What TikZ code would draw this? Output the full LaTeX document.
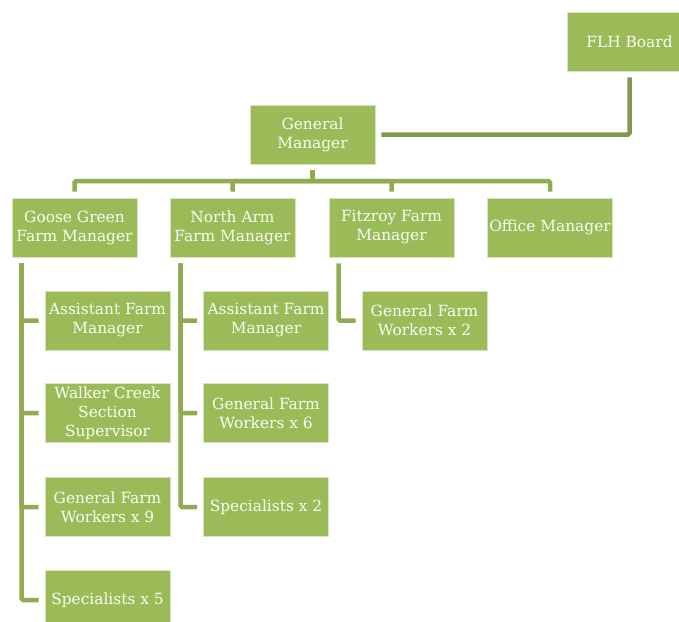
\documentclass[tikz,border=0pt]{standalone}
\usepackage{fontspec}
\setmainfont{DejaVu Serif}
\usepackage{xcolor}
\definecolor{leaf}{HTML}{9BBB59}
\definecolor{stem}{HTML}{8FAD50}
\definecolor{bark}{HTML}{7F9A48}
\definecolor{rim}{HTML}{D7E4BD}
\definecolor{chalk}{HTML}{FAFCF4}
\tikzset{
  post/.style={rectangle, fill=leaf, draw=rim, line width=0.8pt, text=chalk,
    minimum width=125pt, minimum height=59pt, align=center, inner sep=1pt,
    font=\fontsize{15.4}{19}\selectfont},
  link/.style={draw=stem, line width=4.5pt, rounded corners=1.5pt},
}
\begin{document}
\begin{tikzpicture}[x=1pt,y=-1pt]

    \useasboundingbox (0,0) rectangle (679,621);

    % top of the tree
    \node[post] (board) at (629.5,41.5) {FLH Board};
    \node[post] (gm) at (312.5,134.5) {General\\Manager};

    % farm managers
    \node[post] (gg) at (74.5,227.5) {Goose Green\\Farm Manager};
    \node[post] (na) at (232.5,227.5) {North Arm\\Farm Manager};
    \node[post] (fr) at (391.5,227.5) {Fitzroy Farm\\Manager};
    \node[post] (om) at (550,227.5) {Office Manager};

    % Goose Green staff
    \node[post] (ggA) at (107.5,320.5) {Assistant Farm\\Manager};
    \node[post] (ggB) at (107.5,413) {Walker Creek\\Section\\Supervisor};
    \node[post] (ggC) at (107.5,507) {General Farm\\Workers x 9};
    \node[post] (ggD) at (107.5,600) {Specialists x 5};

    % North Arm staff
    \node[post] (naA) at (266,320.5) {Assistant Farm\\Manager};
    \node[post] (naB) at (266,413) {General Farm\\Workers x 6};
    \node[post] (naC) at (266,507) {Specialists x 2};

    % Fitzroy staff
    \node[post] (frA) at (424.5,320.5) {General Farm\\Workers x 2};

    % links
    \draw[link, draw=bark, shorten <=6pt, shorten >=6pt] (gm.east) -| (board.south);

    \coordinate (bar) at (312.5,181);
    \draw[link, shorten <=6pt] (gm.south) -- (bar);
    \foreach \n in {gg,na,fr,om}
      \draw[link, shorten >=6pt] (bar) -| (\n.north);

    \foreach \n in {ggA,ggB,ggC,ggD}
      \draw[link, shorten >=6pt] ([xshift=10pt,yshift=-6pt]gg.south west) |- (\n.west);
    \foreach \n in {naA,naB,naC}
      \draw[link, shorten >=6pt] ([xshift=11pt,yshift=-6pt]na.south west) |- (\n.west);
    \draw[link, shorten >=6pt] ([xshift=10pt,yshift=-6pt]fr.south west) |- (frA.west);

  \end{tikzpicture}
\end{document}
